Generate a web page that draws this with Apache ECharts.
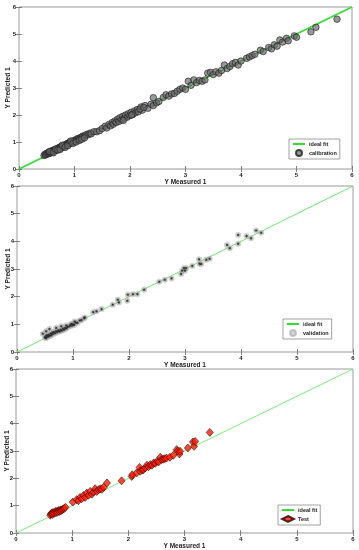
<!DOCTYPE html>
<html><head><meta charset="utf-8">
<script src="https://cdn.jsdelivr.net/npm/echarts@6/dist/echarts.min.js"></script>
<style>html,body{margin:0;padding:0;background:#fff}#c{width:359px;height:550px}</style>
</head><body><div id="c"></div>
<script>
var axisTicks = [0,1,2,3,4,5,6];
var idealFit = [[0,0],[6,6]];
var calibration = [
[0.45,0.50],[0.47,0.55],[0.48,0.52],[0.50,0.58],[0.50,0.55],[0.52,0.60],[0.53,0.57],[0.54,0.62],[0.55,0.58],[0.56,0.64],[0.57,0.60],[0.58,0.66],[0.59,0.62],[0.60,0.68],[0.60,0.63],[0.61,0.65],[0.62,0.70],[0.63,0.66],[0.64,0.68],[0.65,0.72],[0.66,0.69],[0.67,0.70],[0.68,0.75],[0.69,0.72],[0.70,0.74],[0.71,0.78],[0.72,0.75],[0.73,0.80],[0.74,0.77],[0.75,0.82],[0.76,0.79],[0.77,0.84],[0.78,0.80],[0.79,0.86],[0.80,0.83],[0.81,0.88],[0.82,0.85],[0.84,0.90],[0.85,0.87],[0.86,0.93],[0.87,0.90],[0.88,0.95],[0.90,0.93],[0.91,0.98],[0.92,0.95],[0.94,1.00],[0.95,0.97],[0.96,1.03],[0.98,1.00],[1.00,1.05],[1.01,1.02],[1.02,1.08],[1.04,1.06],[1.05,1.12],[1.07,1.09],[1.08,1.14],[1.10,1.12],[1.12,1.18],[1.14,1.16],[1.15,1.22],[1.17,1.20],[1.20,1.25],[1.22,1.28],[1.25,1.27],[1.28,1.33],[1.30,1.30],[1.35,1.38],[1.40,1.38],
[0.55,0.65],[0.62,0.60],[0.66,0.74],[0.70,0.70],[0.74,0.72],[0.78,0.88],[0.83,0.80],[0.88,0.86],[0.93,1.04],[0.97,0.94],[1.03,1.00],[1.09,1.06],[1.13,1.10],[1.18,1.15],
[1.45,1.42],[1.50,1.50],[1.55,1.58],[1.58,1.52],[1.62,1.65],[1.65,1.60],[1.68,1.72],[1.70,1.66],[1.73,1.78],[1.75,1.72],[1.78,1.85],[1.80,1.76],[1.82,1.90],[1.85,1.82],[1.87,1.95],[1.90,1.88],[1.92,2.00],[1.95,1.92],[1.97,2.05],[2.00,1.98],[2.02,2.10],[2.05,2.02],[2.08,2.15],[2.10,2.08],[2.13,2.20],[2.15,2.12],[2.20,2.30],[2.22,2.18],[2.27,2.35],[2.32,2.25],[2.38,2.40],[2.42,2.35],[2.42,2.64],[2.48,2.45],[2.52,2.50],[2.18,2.22],[2.25,2.28],[1.88,1.80],[2.03,2.00],
[2.60,2.65],[2.65,2.75],[2.70,2.70],[2.75,2.78],[2.80,2.80],[2.85,2.88],[2.90,2.95],[2.95,3.00],[3.00,2.95],
[3.05,3.25],[3.10,3.10],[3.15,3.30],[3.20,3.20],[3.25,3.28],[3.30,3.25],[3.35,3.30],[3.40,3.55],[3.45,3.58],[3.50,3.50],[3.55,3.60],[3.60,3.55],[3.65,3.65],[3.70,3.85],[3.75,3.72],[3.80,3.80],[3.85,3.90],[3.90,3.95],[3.95,3.85],[4.00,4.00],[4.10,4.10],[4.15,4.15],[4.20,4.20],[4.25,4.25],[4.35,4.40],[4.40,4.35],[4.50,4.50],[4.55,4.45],[4.60,4.60],[4.65,4.55],[4.70,4.78],[4.75,4.70],[4.82,4.84],[4.85,4.75],[4.96,4.93],[5.00,4.88],[5.26,5.08],[5.35,5.25],[5.73,5.55]
];
var validation = [
[0.50,0.52],[0.51,0.56],[0.52,0.50],[0.53,0.60],[0.55,0.55],[0.56,0.62],[0.58,0.58],[0.60,0.66],[0.61,0.60],[0.63,0.70],[0.64,0.65],[0.66,0.72],[0.68,0.68],[0.70,0.75],[0.72,0.72],[0.74,0.78],[0.76,0.74],[0.78,0.80],[0.80,0.77],[0.82,0.84],[0.84,0.80],[0.86,0.87],[0.88,0.85],[0.90,0.90],[0.93,0.92],[0.95,0.97],[0.98,0.95],[1.00,1.00],[1.02,0.98],[1.05,1.06],[1.08,1.05],[1.15,1.15],[1.20,1.22],
[0.46,0.66],[0.52,0.75],[0.58,0.83],[0.70,0.87],[0.79,0.93],[0.88,0.96],[0.97,1.02],[1.03,1.10],[1.12,1.14],[1.21,1.25],
[1.36,1.44],[1.42,1.47],[1.51,1.55],[1.71,1.71],[1.80,1.89],[1.82,1.79],[1.97,1.85],[1.98,2.07],[2.07,2.09],[2.15,2.09],[2.27,2.25],[2.54,2.54],[2.64,2.61],[2.76,2.66],
[2.93,2.82],[2.95,2.94],[2.98,3.03],[3.00,2.94],[3.02,3.03],[3.13,3.11],[3.25,3.35],[3.26,3.19],[3.29,3.18],[3.38,3.33],[3.44,3.37],
[3.75,3.87],[3.80,3.75],[3.95,3.91],[3.95,4.23],[4.10,4.19],[4.18,4.11],[4.27,4.39],[4.36,4.31]
];
var test = [
[0.61,0.65],[0.62,0.70],[0.64,0.73],[0.65,0.68],[0.66,0.75],[0.68,0.72],[0.70,0.79],[0.71,0.74],[0.73,0.80],[0.74,0.76],[0.76,0.82],[0.77,0.79],[0.79,0.84],[0.80,0.81],[0.82,0.85],[0.84,0.88],[0.86,0.90],[0.88,0.94],
[1.01,1.13],[1.08,1.22],[1.11,1.18],[1.14,1.30],[1.17,1.25],[1.20,1.37],[1.23,1.30],[1.26,1.46],[1.29,1.38],[1.32,1.52],[1.35,1.42],[1.38,1.50],[1.41,1.62],[1.44,1.52],[1.47,1.58],[1.50,1.62],[1.53,1.60],[1.56,1.67],[1.62,1.83],
[1.88,1.91],[2.06,2.07],[2.07,2.13],[2.15,2.20],[2.20,2.40],[2.21,2.26],[2.25,2.30],[2.27,2.32],[2.30,2.38],[2.33,2.48],[2.36,2.42],[2.39,2.50],[2.42,2.48],[2.45,2.56],[2.48,2.55],[2.51,2.62],[2.54,2.60],[2.57,2.77],[2.59,2.68],[2.62,2.70],[2.65,2.72],[2.68,2.74],[2.74,2.77],[2.80,2.84],[2.86,3.05],[2.88,3.00],[2.91,2.89],[2.92,2.99],
[3.06,3.11],[3.15,3.33],[3.17,3.17],[3.19,3.35],[3.45,3.68]
];

var chart = echarts.init(document.getElementById('c'), null, {renderer:'canvas'});
var FONT = 'Liberation Sans, Arial, sans-serif';
var grids = [
  {left:19, right:7, top:7, height:162},
  {left:17, right:6, top:186, height:166},
  {left:16, right:6, top:369, height:164}
];
var nameGaps = [7.5, 5.5, 5];
var xAxes = [], yAxes = [];
grids.forEach(function(g, i){
  g.show = true; g.borderColor = '#9a9a9a'; g.borderWidth = 1; g.backgroundColor = '#fff';
  g.containLabel = false; g.outerBoundsMode = 'none';
  var base = {gridIndex:i, type:'value', min:0, max:6, interval:1, splitLine:{show:false},
    axisLine:{show:false}, axisTick:{inside:true, length:3, lineStyle:{color:'#666', width:0.8}}};
  xAxes.push(Object.assign({}, base, {position:'bottom', name:'Y Measured 1', nameLocation:'middle', nameGap:10,
    nameMoveOverlap:false,
    nameTextStyle:{fontSize:6.5, fontWeight:'bold', color:'#222', fontFamily:FONT},
    axisLabel:{fontSize:6, fontWeight:'bold', color:'#222', margin:3, fontFamily:FONT}}));
  xAxes.push(Object.assign({}, base, {position:'top', axisLabel:{show:false}}));
  yAxes.push(Object.assign({}, base, {position:'left', name:'Y Predicted 1', nameLocation:'middle', nameGap:nameGaps[i],
    nameMoveOverlap:false,
    nameTextStyle:{fontSize:6.5, fontWeight:'bold', color:'#222', fontFamily:FONT},
    axisLabel:{fontSize:6, fontWeight:'bold', color:'#222', margin:3, fontFamily:FONT}}));
  yAxes.push(Object.assign({}, base, {position:'right', axisLabel:{show:false}}));
});

function fitLine(i, color, width){
  return {name:'ideal fit', type:'line', xAxisIndex:2*i, yAxisIndex:2*i, data:idealFit, symbol:'none',
    lineStyle:{color:color, width:width}, itemStyle:{color:color}, silent:true, z:1};
}
var series = [
  fitLine(0, '#2fdc2f', 1.6),
  {name:'calibration', type:'scatter', xAxisIndex:0, yAxisIndex:0, data:calibration, symbol:'circle', symbolSize:6.5,
    itemStyle:{color:'rgba(105,105,105,0.85)', borderColor:'#1e1e1e', borderWidth:0.8}, z:3},
  fitLine(1, '#6ee86e', 1),
  {name:'validation', type:'scatter', xAxisIndex:2, yAxisIndex:2, data:validation, symbol:'circle', symbolSize:5.5,
    itemStyle:{color:'rgba(190,190,190,0.8)', borderColor:'rgba(150,150,150,0.6)', borderWidth:0.5}, z:3},
  {name:'validation', type:'scatter', xAxisIndex:2, yAxisIndex:2, data:validation, symbol:'path://M0,-1L0,1M-1,0L1,0M-0.7,-0.7L0.7,0.7M-0.7,0.7L0.7,-0.7', symbolSize:3,
    itemStyle:{color:'none', borderColor:'#222', borderWidth:0.7}, z:4},
  fitLine(2, '#7aee7a', 1),
  {name:'Test', type:'scatter', xAxisIndex:4, yAxisIndex:4, data:test, symbol:'diamond', symbolSize:[7,8],
    itemStyle:{color:'#ff1a00', borderColor:'#2a0000', borderWidth:0.7}, z:3}
];
function legend(names, left, top){
  var data = names.map(function(n){ return n === 'ideal fit' ? {name:n, itemStyle:{opacity:0}} : n; });
  return {data:data, left:left, top:top, orient:'vertical', itemGap:2, itemWidth:12, itemHeight:6,
    padding:[2,3,2,3], borderColor:'#8a8a8a', borderWidth:0.8, backgroundColor:'#fff', selectedMode:false,
    textStyle:{fontSize:5.5, fontWeight:'bold', color:'#222', fontFamily:FONT, padding:[0,0,0,-1]}};
}
chart.setOption({
  animation:false,
  backgroundColor:'#fff',
  grid:grids, xAxis:xAxes, yAxis:yAxes, series:series,
  legend:[legend(['ideal fit','calibration'], 289, 139), legend(['ideal fit','validation'], 283, 319), legend(['ideal fit','Test'], 278, 505)]
});
</script></body></html>
